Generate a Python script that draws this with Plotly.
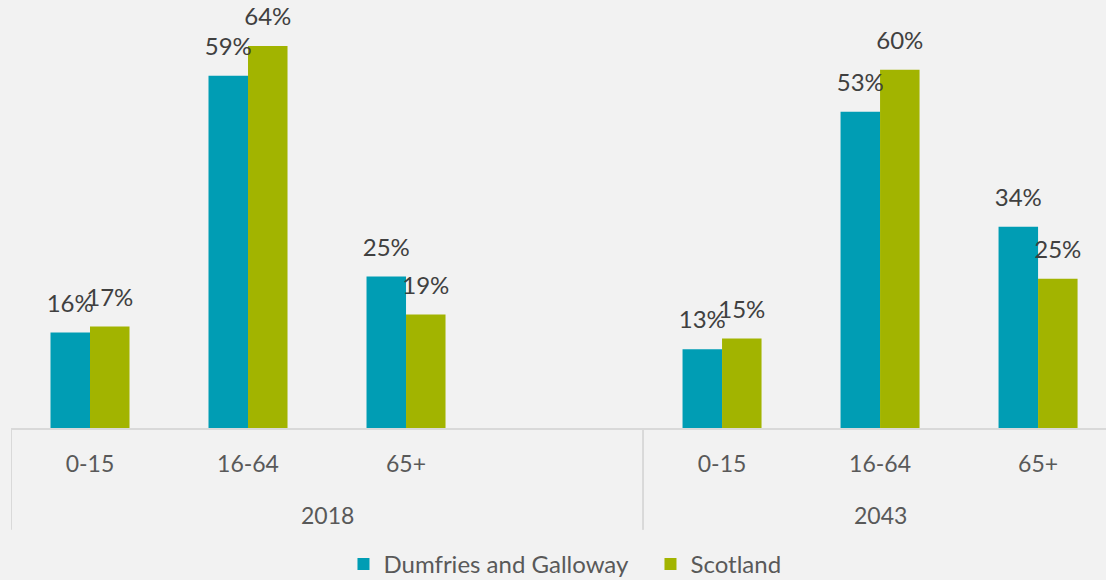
import plotly.graph_objects as go

# population share by age band (%)
years = ["2018", "2018", "2018", "2018", "2043", "2043", "2043"]
age_bands = ["0-15", "16-64", "65+", "", "0-15", "16-64", "65+"]
dumfries = [16, 59, 25.4, None, 13.2, 53, 33.7]
scotland = [17, 64, 19, None, 15, 60, 25]
year_groups = ["2018", "2043"]
series = [("Dumfries and Galloway", dumfries), ("Scotland", scotland)]

TEAL = "#009DB4"
GREEN = "#A2B400"
BG = "#F2F2F2"
LINE = "#D9D9D9"
FONT = "Lato"
colors = [TEAL, GREEN]

# one category per slot (the blank slot keeps the gap after 2018)
slots = [f"{y}|{a or 'gap'}" for y, a in zip(years, age_bands)]

fig = go.Figure()
for (name, vals), col in zip(series, colors):
    fig.add_trace(go.Bar(name=name, x=slots, y=vals, marker_color=col,
                         marker_line_width=0))
# value labels: invisible grouped scatter so the label sits a bit above each bar
for (name, vals), col in zip(series, colors):
    fig.add_trace(go.Scatter(x=slots, y=vals, mode="markers+text", showlegend=False,
                             texttemplate="%{y:.0f}%", textposition="top center",
                             marker=dict(size=22, opacity=0), cliponaxis=False,
                             textfont=dict(family=FONT, size=24, color="#404040"),
                             hoverinfo="skip"))

# year labels centred under their slots, with dividers at group edges
for yr in year_groups:
    idx = [i for i, y in enumerate(years) if y == yr]
    left, right = idx[0] - 0.5, idx[-1] + 0.5
    fig.add_annotation(x=(left + right) / 2, y=-0.203, xref="x", yref="paper",
                       text=yr, showarrow=False, yanchor="middle",
                       font=dict(family=FONT, size=23, color="#595959"))
    fig.add_shape(type="line", xref="x", yref="paper", x0=left, x1=left,
                  y0=0, y1=-0.238, line=dict(color=LINE, width=2))

fig.update_layout(
    width=1106, height=580,
    paper_bgcolor=BG, plot_bgcolor=BG,
    margin=dict(l=11, r=0, t=0, b=152, autoexpand=False),
    barmode="group", bargap=0.5, bargroupgap=0,
    scattermode="group", scattergap=0.5,
    font=dict(family=FONT, size=23, color="#595959"),
    showlegend=True,
    legend=dict(orientation="h", x=0.584, xanchor="center", y=-0.266, yanchor="top",
                font=dict(family=FONT, size=24, color="#595959"), itemwidth=30,
                entrywidth=262, traceorder="normal"),
)
fig.update_xaxes(type="category", categoryorder="array", categoryarray=slots,
                 tickvals=slots, ticktext=age_bands,
                 range=[-0.5, 6.43], showline=True, linecolor=LINE, linewidth=2,
                 ticklabelstandoff=14, showgrid=False, automargin=False)
fig.update_yaxes(range=[0, 71.7], visible=False, showgrid=False, automargin=False)

fig.write_html("out.html", config={"displayModeBar": False},
               post_script="document.body.style.margin='0';")
